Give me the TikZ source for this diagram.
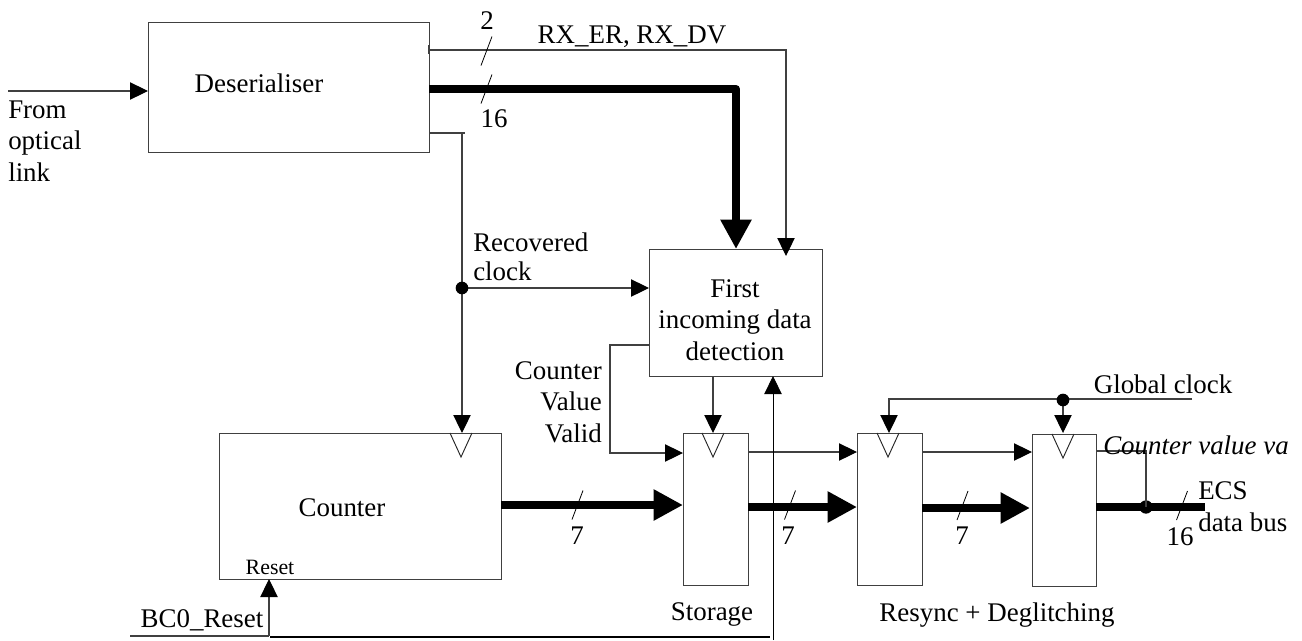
\documentclass[tikz,border=0pt]{standalone}
\usepackage{fontspec}
\setmainfont{Liberation Serif}
\usetikzlibrary{arrows.meta}
\tikzset{
 x=0.75pt,y=-0.75pt,
 block/.style={draw=black!75,line width=0.9pt,fill=white,minimum width=0pt,inner sep=0pt},
 thin wire/.style={draw=black!75,line width=0.8pt},
 thick wire/.style={draw=black,line width=6pt},
 sarrow/.style={-{Triangle[length=13.5pt,width=13pt,color=black,fill=black]}},
 barrow/.style={-{Triangle[length=22pt,width=22pt,color=black,fill=black]}},
 txt/.style={font=\fontsize{20.2pt}{23.5pt}\selectfont,inner sep=0pt,align=center},
 slash/.style={draw=black,line width=0.6pt},
 dot/.style={circle,fill=black,inner sep=0pt,minimum size=9.5pt},
}
\newcommand{\rbox}[5]{\node[block,minimum width=#4*0.75pt,minimum height=#5*0.75pt,anchor=north west] (#1) at (#2,#3) {};}
\newcommand{\tick}[3][14.5]{\draw[slash] (#2+5.5,#3-#1) -- (#2-5.5,#3+#1);}
\begin{document}
\begin{tikzpicture}
\useasboundingbox (0,0) rectangle (1302,640);
\fill[white] (0,0) rectangle (1302,640);
\rbox{des}{148}{22}{281}{130}
\rbox{det}{649}{249}{173}{127}
\rbox{cnt}{219}{433}{282}{146}
\rbox{sto}{683}{433}{65}{152}
\rbox{res}{857}{433}{65}{152}
\rbox{deg}{1032}{434}{64}{152}
% clock triangles
\foreach \n/\x/\y in {ta/461/433,tb/713/433,tc/888/433,td/1063/434}{
 \coordinate (\n) at (\x,\y);
 \draw[black!85,line width=0.7pt] (\x-11,\y) -- (\x,\y+24) -- (\x+11,\y);
}
% input
\coordinate (in) at (8,91);
\draw[thin wire,sarrow] (in) -- (148,91);
\node[txt,align=left,anchor=west] (from) at (8,141) {From\\optical\\link};
\node[txt,anchor=center] (dlab) at (259,83) {Deserialiser};
% buses from deserialiser
\coordinate (rxc) at (786,50);
\draw[thin wire,sarrow] (429,50) -- (786,50) -- (786,256);
\draw[thin wire] (429,45) -- (429,54);
\draw[thick wire,barrow,line join=round] (429,89) -- (736,89) -- (736,249);
\tick{486.5}{51}
\tick{486.5}{89}
\node[txt] (n2) at (487,21) {2};
\node[txt] (n16a) at (494,119) {16};
\node[txt] (rx) at (632,37) {RX\_ER, RX\_DV};
% recovered clock
\coordinate (rc) at (462,288);
\draw[thin wire] (429,133) -- (465,133);
\draw[thin wire] (462,133) -- (rc);
\draw[thin wire,sarrow] (rc) -- (462,433);
\draw[thin wire,sarrow] (rc) -- (649,288);
\node[dot] (rcd) at (rc) {};
\node[txt,align=left,anchor=west,font=\fontsize{20.2pt}{22pt}\selectfont] (rcl) at (473,257) {Recovered\\clock};
% detection
\node[txt] (dt) at (735,320) {First\\incoming data\\detection};
\draw[thin wire,sarrow] (713,376) -- (713,433);
\draw[thin wire,sarrow] (649,345) -- (610,345) -- (610,453) -- (683,453);
\node[txt,align=right,anchor=east] (cvv) at (602,402) {Counter\\Value\\Valid};
% counter
\node[txt] (cl) at (342,508) {Counter};
\node[anchor=center,inner sep=0pt,font=\fontsize{16.4pt}{18pt}\selectfont] (rl) at (270,567) {Reset};
\draw[thick wire,barrow] (501,505) -- (683,505);
\tick{577.5}{505}
\node[txt] (n7a) at (577,536) {7};
\draw[thin wire,sarrow] (748,452) -- (857,452);
\draw[thick wire,barrow] (748,507) -- (857,507);
\tick{790}{505}
\node[txt] (n7b) at (788,536) {7};
\node[txt] (sl) at (712,614) {Storage};
% reset lines
\coordinate (bl) at (130,636);
\draw[thin wire] (bl) -- (269,636);
\draw[thin wire,sarrow] (269,636) -- (269,579);
\draw[black,line width=0.8pt] (270,637) -- (770,637);
\coordinate (up) at (773,640);
\draw[black,line width=0.65pt,sarrow] (up) -- (773,376);
\node[txt] (bcl) at (202,620) {BC0\_Reset};
% resync
\draw[thin wire,sarrow] (922,452) -- (1032,452);
\draw[thick wire,barrow] (922,508) -- (1030,508);
\tick{962.5}{505.5}
\node[txt] (n7c) at (962,536) {7};
\node[txt] (rdl) at (997,615) {Resync + Deglitching};
% global clock
\coordinate (gc) at (1063,400);
\coordinate (ge) at (1192,399);
\draw[thin wire,sarrow] (ge) -- (889,399) -- (889,433);
\draw[thin wire,sarrow] (gc) -- (1063,433);
\node[dot] (gcd) at (gc) {};
\node[txt] (gl) at (1163,384) {Global clock};
% output
\coordinate (oj) at (1146,507);
\coordinate (oe) at (1205,507);
\draw[thick wire] (1096,507) -- (oe);
\node[dot,minimum size=10pt] (ojd) at (oj) {};
\draw[thin wire] (1096,451) -- (1146,451) -- (oj);
\tick{1182}{505.5}
\node[txt,anchor=west,font=\fontsize{20.2pt}{23.5pt}\selectfont\itshape] (cv) at (1103,445) {Counter value va};
\node[txt,anchor=west] (ecs) at (1198,491) {ECS};
\node[txt,anchor=west] (dbus) at (1198,522) {data bus};
\node[txt] (n16b) at (1180,537) {16};
\end{tikzpicture}
\end{document}
